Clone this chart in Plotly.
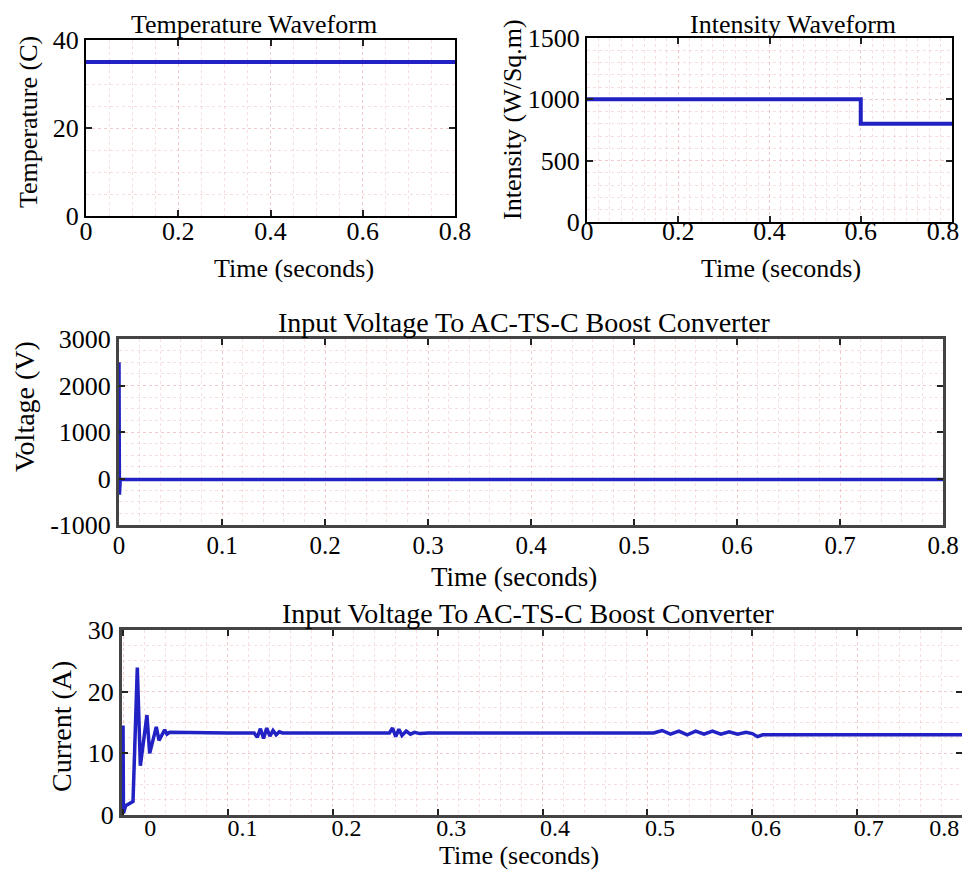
import plotly.graph_objects as go

# ---------------- data ----------------
temp_t = [0.0, 0.8]
temp_c = [35, 35]

irr_t = [0.0, 0.6, 0.6, 0.8]
irr_w = [1000, 1000, 800, 800]

volt_t = [0.0, 0.0004, 0.0012, 0.8]
volt_v = [2500, -350, -20, -20]

cur_t = [0.0, 0.0004, 0.0025, 0.0079, 0.0095, 0.0136, 0.0165, 0.0228, 0.0254, 0.0317,
         0.0343, 0.0397, 0.0419, 0.0444, 0.07, 0.10, 0.125, 0.128, 0.131, 0.134,
         0.137, 0.140, 0.143, 0.146, 0.149, 0.152, 0.20, 0.254, 0.257, 0.260,
         0.263, 0.266, 0.270, 0.274, 0.278, 0.283, 0.291, 0.40, 0.506, 0.514,
         0.522, 0.530, 0.538, 0.546, 0.554, 0.562, 0.570, 0.578, 0.586, 0.594,
         0.600, 0.605, 0.610, 0.62, 0.80]
cur_a = [14.5, 0.3, 1.5, 2.0, 2.2, 23.9, 8.0, 16.2, 10.0, 14.3,
         12.1, 13.8, 13.1, 13.4, 13.3, 13.3, 13.3, 12.6, 14.0, 12.4,
         14.1, 12.8, 13.7, 13.0, 13.5, 13.3, 13.3, 13.3, 14.1, 12.7,
         13.9, 12.9, 13.6, 13.1, 13.4, 13.2, 13.3, 13.3, 13.3, 13.7,
         13.1, 13.6, 13.0, 13.6, 13.1, 13.6, 13.1, 13.5, 13.1, 13.4,
         13.2, 12.7, 13.0, 13.0, 13.0]

temp_yticks = [0, 20, 40]
irr_yticks = [0, 500, 1000, 1500]
volt_yticks = [-1000, 0, 1000, 2000, 3000]
cur_yticks = [0, 10, 20, 30]
top_xticks = [0, 0.2, 0.4, 0.6, 0.8]
wide_xticks = [0, 0.1, 0.2, 0.3, 0.4, 0.5, 0.6, 0.7, 0.8]

# ---------------- styling ----------------
# the page adds an 8px body margin, so the figure is drawn 8px in from the corner
OFF = 8
W, H = 970 - 2 * OFF, 880 - 2 * OFF
FONT = "Liberation Serif"
BLUE = "#2222c4"
GRID = "rgba(235,175,175,0.4)"
# offsets of tick texts from their tick marks, as they appear in the reference
bottom_label_shift = [0.026, 0.014, 0.013, 0.013, 0.012, 0.012, 0.013, 0.011, -0.017]
irr_label_shift = [0, 0, 0, 0, -0.02]


def px_x(p):
    return min(1.0, max(0.0, (p - OFF) / W))


def px_y(p):
    return min(1.0, max(0.0, 1 - (p - OFF) / H))


def axis(domain, rng, tickvals, minor_dtick, size, linecolor, lw, labels=True, standoff=0):
    return dict(
        domain=domain, range=rng, tickvals=tickvals,
        ticktext=[("%g" % v) for v in tickvals],
        showticklabels=labels, ticklabelstandoff=standoff,
        automargin=False,
        ticks="inside", ticklen=6, tickwidth=2, tickcolor="#222",
        showline=True, linecolor=linecolor, linewidth=lw, mirror="ticks",
        showgrid=True, gridcolor=GRID, griddash="dot", gridwidth=1,
        minor=dict(dtick=minor_dtick, showgrid=True, gridcolor=GRID,
                   griddash="dot", gridwidth=1, ticks=""),
        zeroline=False,
        tickfont=dict(family=FONT, size=size, color="black"),
        fixedrange=True,
    )


def label_axis(domain, rng, over, anchor, tickvals, shifts, size, standoff=0):
    return dict(
        domain=domain, range=rng, overlaying=over, anchor=anchor, side="bottom",
        automargin=False, ticklabelstandoff=standoff, ticklabeloverflow="allow",
        tickvals=[v + s for v, s in zip(tickvals, shifts)],
        ticktext=[("%g" % v) for v in tickvals],
        ticks="", showline=False, showgrid=False, zeroline=False,
        tickfont=dict(family=FONT, size=size, color="black"), fixedrange=True,
    )


fig = go.Figure()
fig.add_trace(go.Scatter(x=temp_t, y=temp_c, mode="lines", line=dict(color=BLUE, width=4),
                         xaxis="x", yaxis="y", showlegend=False))
fig.add_trace(go.Scatter(x=irr_t, y=irr_w, mode="lines", line=dict(color=BLUE, width=4),
                         xaxis="x2", yaxis="y2", showlegend=False))
fig.add_trace(go.Scatter(x=volt_t, y=volt_v, mode="lines", line=dict(color=BLUE, width=3.5),
                         xaxis="x3", yaxis="y3", showlegend=False))
fig.add_trace(go.Scatter(x=cur_t, y=cur_a, mode="lines", line=dict(color=BLUE, width=3.5),
                         xaxis="x4", yaxis="y4", showlegend=False))
# transparent copies so the twin label axes get drawn
fig.add_trace(go.Scatter(x=cur_t, y=cur_a, mode="lines", opacity=0, hoverinfo="skip",
                         xaxis="x5", yaxis="y4", showlegend=False))
fig.add_trace(go.Scatter(x=irr_t, y=irr_w, mode="lines", opacity=0, hoverinfo="skip",
                         xaxis="x6", yaxis="y2", showlegend=False))

bottom_range = [-0.001, 0.8]
fig.update_layout(
    template="none",
    width=W, height=H, autosize=False,
    margin=dict(l=0, r=0, t=0, b=0, pad=0),
    paper_bgcolor="white", plot_bgcolor="white",
    font=dict(family=FONT, color="black"),
    xaxis=axis([px_x(86), px_x(455)], [0, 0.8], top_xticks, 0.05, 26, "black", 2, standoff=-9),
    yaxis=axis([px_y(216), px_y(40)], [0, 40], temp_yticks, 5, 26, "black", 2),
    xaxis2=axis([px_x(587), px_x(952)], [0, 0.8], top_xticks, 0.025, 26, "black", 2,
                labels=False),
    yaxis2=axis([px_y(222), px_y(38)], [0, 1500], irr_yticks, 100, 26, "black", 2),
    xaxis3=axis([px_x(119), px_x(943)], [0, 0.8], wide_xticks, 0.02, 25, "#444", 3, standoff=-4),
    yaxis3=axis([px_y(525), px_y(339)], [-1000, 3000], volt_yticks, 250, 26, "#444", 3),
    xaxis4=axis([px_x(122), px_x(963)], bottom_range, wide_xticks, 0.02, 24, "#444", 3,
                labels=False),
    yaxis4=axis([px_y(815), px_y(630)], [0, 30], cur_yticks, 2.5, 26, "#444", 3),
    xaxis5=label_axis([px_x(122), px_x(963)], bottom_range, "x4", "y4",
                      wide_xticks, bottom_label_shift, 24, standoff=-4),
    xaxis6=label_axis([px_x(587), px_x(952)], [0, 0.8], "x2", "y2",
                      top_xticks, irr_label_shift, 26, standoff=-9),
)
for i in ("", "2", "3", "4"):
    fig.layout["xaxis" + i].anchor = "y" + i
    fig.layout["yaxis" + i].anchor = "x" + i


def note(text, x, y, size, angle=0, yanchor="middle"):
    fig.add_annotation(text=text, x=px_x(x), y=px_y(y), xref="paper", yref="paper",
                       showarrow=False, textangle=angle,
                       font=dict(family=FONT, size=size, color="black"),
                       xanchor="center", yanchor=yanchor)


note("Temperature Waveform", 254, 8, 26, yanchor="top")
note("Intensity Waveform", 793, 8, 26, yanchor="top")
note("Input Voltage To AC-TS-C Boost Converter", 524, 322, 28)
note("Input Voltage To AC-TS-C Boost Converter", 528, 613, 28)

note("Time (seconds)", 294, 268, 26)
note("Time (seconds)", 781, 268, 26)
note("Time (seconds)", 514, 577, 27)
note("Time (seconds)", 519, 872, 26, yanchor="bottom")

note("Temperature (C)", 29, 122, 26, -90)
note("Intensity (W/Sq.m)", 512, 120, 26, -90)
note("Voltage (V)", 24, 407, 28, -90)
note("Current (A)", 61, 727, 28, -90)

fig.write_html("out.html")
